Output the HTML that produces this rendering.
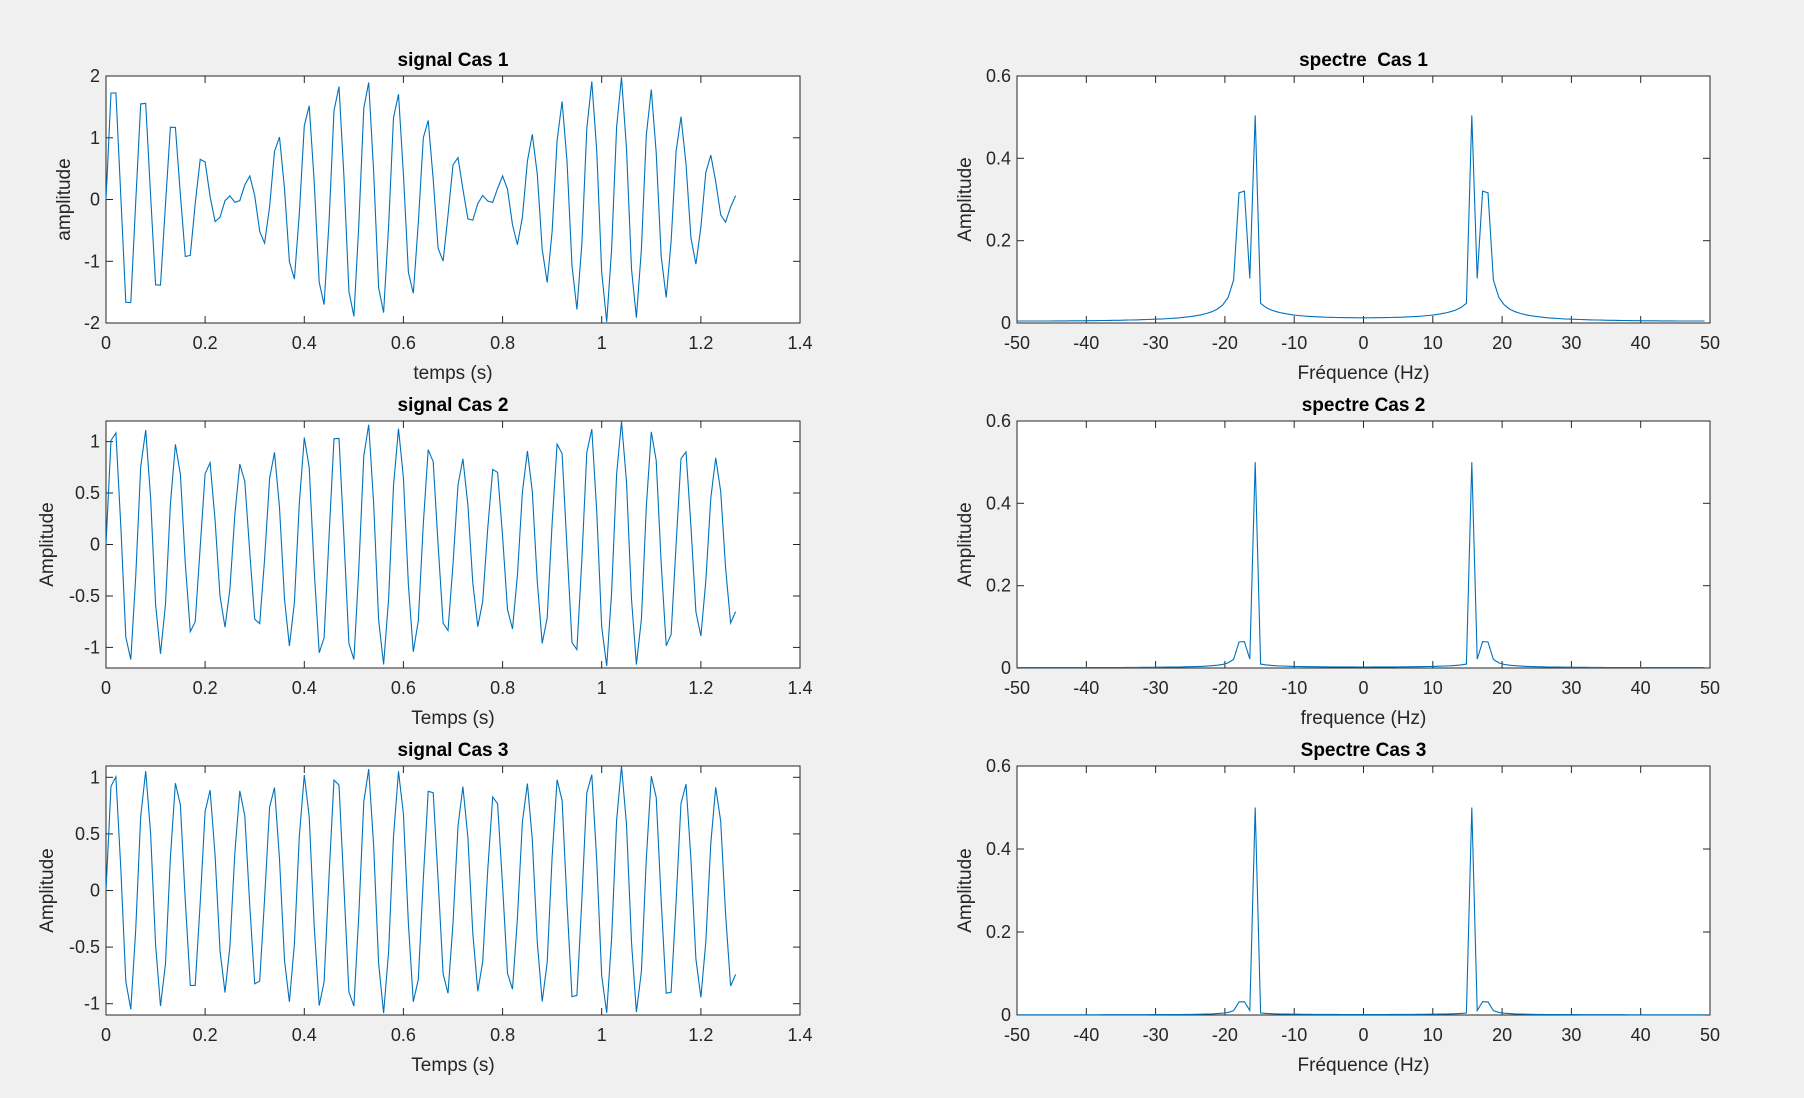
<!DOCTYPE html>
<html><head><meta charset="utf-8"><style>
html,body{margin:0;padding:0;background:#f0f0f0;}
svg{display:block;font-family:"Liberation Sans",Arial,sans-serif;}
</style></head><body>
<svg id="s" width="1804" height="1098" xmlns="http://www.w3.org/2000/svg"></svg>
<script>
const N=128,fs=100,f1=15.625,f2=17.578125;
function sig(a){const x=[];for(let n=0;n<N;n++){const t=n/fs;x.push(Math.sin(2*Math.PI*f1*t)+a*Math.sin(2*Math.PI*f2*t));}return x;}
function spec(x){const out=[];for(let k=-N/2;k<N/2;k++){let re=0,im=0;for(let n=0;n<N;n++){const p=-2*Math.PI*k*n/N;re+=x[n]*Math.cos(p);im+=x[n]*Math.sin(p);}out.push([k*fs/N,Math.hypot(re,im)/N]);}return out;}
const L={x0:106,x1:800},R={x0:1017,x1:1710};
const rows=[[76,323],[421,668],[766,1015]];
const cases=[1,0.2,0.1];
const ylims=[[-2,2,[-2,-1,0,1,2]],[-1.2,1.2,[-1,-0.5,0,0.5,1]],[-1.1,1.1,[-1,-0.5,0,0.5,1]]];
const titlesL=["signal Cas 1","signal Cas 2","signal Cas 3"];
const titlesR=["spectre&#160; Cas 1","spectre Cas 2","Spectre Cas 3"];
const xlL=["temps (s)","Temps (s)","Temps (s)"];
const xlR=["Fréquence (Hz)","frequence (Hz)","Fréquence (Hz)"];
const ylL=["amplitude","Amplitude","Amplitude"];
const ylLx=[70,53,53];
let h='';
function fmt(v){return (Math.round(v*10)/10).toString();}
function plot(p){
  const {x0,x1,y0,y1,xmin,xmax,ymin,ymax,xt,yt,pts}=p;
  const X=v=>x0+(v-xmin)/(xmax-xmin)*(x1-x0), Y=v=>y1-(v-ymin)/(ymax-ymin)*(y1-y0);
  h+=`<rect x="${x0}" y="${y0}" width="${x1-x0}" height="${y1-y0}" fill="#fff" stroke="#262626" stroke-width="1"/>`;
  for(const t of xt){const xx=X(t).toFixed(1);h+=`<line x1="${xx}" y1="${y1}" x2="${xx}" y2="${y1-7}" stroke="#262626"/><line x1="${xx}" y1="${y0}" x2="${xx}" y2="${y0+7}" stroke="#262626"/><text x="${xx}" y="${y1+26}" font-size="18" text-anchor="middle" fill="#262626">${fmt(t)}</text>`;}
  for(const t of yt){const yy=Y(t).toFixed(1);h+=`<line x1="${x0}" y1="${yy}" x2="${x0+7}" y2="${yy}" stroke="#262626"/><line x1="${x1}" y1="${yy}" x2="${x1-7}" y2="${yy}" stroke="#262626"/><text x="${x0-6}" y="${(+yy+6).toFixed(1)}" font-size="18" text-anchor="end" fill="#262626">${fmt(t)}</text>`;}
  h+=`<polyline fill="none" stroke="#0072BD" stroke-width="1.1" points="${pts.map(q=>X(q[0]).toFixed(1)+','+Y(q[1]).toFixed(1)).join(' ')}"/>`;
  const cx=(x0+x1)/2;
  h+=`<text x="${cx}" y="${y0-10}" font-size="19" font-weight="bold" text-anchor="middle" fill="#000">${p.title}</text>`;
  h+=`<text x="${cx}" y="${y1+56}" font-size="19" text-anchor="middle" fill="#262626">${p.xl}</text>`;
  const cy=(y0+y1)/2;
  h+=`<text x="${p.ylx}" y="${cy}" font-size="19" text-anchor="middle" fill="#262626" transform="rotate(-90 ${p.ylx} ${cy})">${p.yl}</text>`;
}
for(let i=0;i<3;i++){
  const x=sig(cases[i]);const [y0,y1]=rows[i];
  plot({x0:L.x0,x1:L.x1,y0,y1,xmin:0,xmax:1.4,ymin:ylims[i][0],ymax:ylims[i][1],xt:[0,0.2,0.4,0.6,0.8,1,1.2,1.4],yt:ylims[i][2],pts:x.map((v,n)=>[n/fs,v]),title:titlesL[i],xl:xlL[i],yl:ylL[i],ylx:ylLx[i]});
  plot({x0:R.x0,x1:R.x1,y0,y1,xmin:-50,xmax:50,ymin:0,ymax:0.6,xt:[-50,-40,-30,-20,-10,0,10,20,30,40,50],yt:[0,0.2,0.4,0.6],pts:spec(x),title:titlesR[i],xl:xlR[i],yl:"Amplitude",ylx:971});
}
document.getElementById('s').innerHTML=h;
</script>
</body></html>
